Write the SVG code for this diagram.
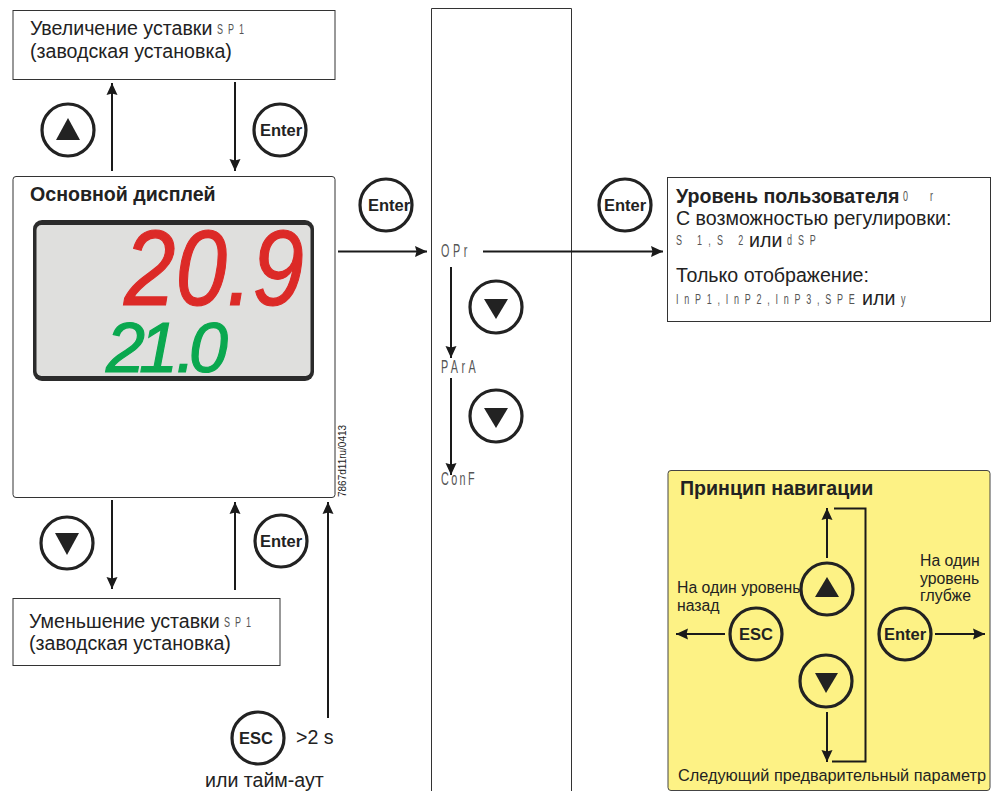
<svg xmlns="http://www.w3.org/2000/svg" width="998" height="791" viewBox="0 0 998 791">
<style>
text{font-family:"Liberation Sans",Arial,sans-serif;fill:#222}
.t{font-size:19.6px}
.b{font-weight:bold}
.s{font-size:15.800px}
.box{fill:#fff;stroke:#333;stroke-width:1}
.c{fill:#fff;stroke:#222;stroke-width:3.2}
.cy{fill:#fdf285;stroke:#222;stroke-width:3.2}
.k{font-size:16.500px;font-weight:bold;text-anchor:middle}
.tri{fill:#222}
.ln{fill:none;stroke:#1a1a1a;stroke-width:2}
.a{marker-end:url(#h)}
.seg{font-family:"Liberation Sans",sans-serif;font-size:15px;fill:#555}
.seg2{font-family:"Liberation Sans",sans-serif;font-size:18px;fill:#555}
</style>
<defs><marker id="h" markerUnits="userSpaceOnUse" markerWidth="13" markerHeight="12" refX="12" refY="6" orient="auto"><path d="M0 0.500L12 6L0 11.500L1.500 6Z" fill="#1a1a1a"/></marker></defs>
<rect width="998" height="791" fill="#fff"/>
<g id="column"><path d="M431.500 791V8.500H571.500V791" fill="#fff" stroke="#333"/></g>
<g id="box-up"><rect class="box" x="13" y="10.500" width="322" height="69"/>
<text class="t" x="30" y="35">Увеличение уставки</text><text class="seg" transform="translate(217 34) scale(.6 1)" textLength="45" lengthAdjust="spacing">SP1</text>
<text class="t" x="30" y="58">(заводская установка)</text></g>
<g id="box-main"><rect class="box" x="13" y="176.500" width="322" height="321" rx="3"/>
<text class="t b" x="30" y="201">Основной дисплей</text>
<rect x="33" y="220" width="281" height="161" rx="9" fill="#2b2b2b"/><rect x="36.500" y="225" width="274" height="151" rx="5" fill="#dfdfdd"/>
<text x="124" y="305" font-size="107" font-style="italic" textLength="180" lengthAdjust="spacingAndGlyphs" style="fill:#dc2a27;stroke:#dc2a27;stroke-width:1.200">20.9</text>
<text x="106 139 176 189" y="372" font-size="70" font-style="italic" style="fill:#0aa84f;stroke:#0aa84f;stroke-width:1.200">21.0</text>
<text transform="translate(346 497) rotate(-90)" font-size="10">7867d11ru/0413</text></g>
<g id="box-down"><rect class="box" x="13" y="598.500" width="267" height="67"/>
<text class="t" x="29" y="628">Уменьшение уставки</text><text class="seg" transform="translate(224 627) scale(.6 1)" textLength="45" lengthAdjust="spacing">SP1</text>
<text class="t" x="29" y="650">(заводская установка)</text></g>
<g id="box-user"><rect class="box" x="667.500" y="177.500" width="323" height="144"/>
<text class="t b" x="676" y="203">Уровень пользователя</text><text class="seg" transform="translate(903 201) scale(.6 1)" textLength="50" lengthAdjust="spacing">0 r</text>
<text class="t" x="676" y="225">С возможностью регулировки:</text>
<text class="seg" transform="translate(676 245) scale(.6 1)" textLength="112" lengthAdjust="spacing">S 1,S 2</text><text class="t" x="749" y="247">или</text><text class="seg" transform="translate(787 245) scale(.6 1)" textLength="48" lengthAdjust="spacing">dSP</text>
<text class="t" x="676" y="282">Только отображение:</text>
<text class="seg" transform="translate(676 304) scale(.6 1)" textLength="298" lengthAdjust="spacing">InP1,InP2,InP3,SPE</text><text class="t" x="862" y="305">или</text><text class="seg" transform="translate(901 304) scale(.6 1)">y</text></g>
<g id="menu"><text class="seg2" transform="translate(441 257) scale(.6 1)" textLength="44" lengthAdjust="spacing">OPr</text><text class="seg2" transform="translate(441 373) scale(.6 1)" textLength="58" lengthAdjust="spacing">PArA</text><text class="seg2" transform="translate(441 485) scale(.6 1)" textLength="56" lengthAdjust="spacing">ConF</text></g>
<g id="connectors">
<path class="ln a" d="M112 171V83"/><path class="ln a" d="M235 82V171"/><path class="ln a" d="M112 500V589"/><path class="ln a" d="M235 590V502"/><path class="ln a" d="M328 718V502"/>
<path class="ln a" d="M338 251.500H427"/><path class="ln a" d="M483 251.500H663"/><path class="ln a" d="M451 267V358"/><path class="ln a" d="M451 378V475"/>
</g>
<g id="btn-up1"><circle class="c" cx="68" cy="130" r="26"/><path class="tri" d="M68 118L80 140H56Z"/></g>
<g id="btn-enter1"><circle class="c" cx="280" cy="130" r="26"/><text class="k" x="281" y="136">Enter</text></g>
<g id="btn-down1"><circle class="c" cx="67" cy="543" r="26"/><path class="tri" d="M55 533H79L67 555Z"/></g>
<g id="btn-enter2"><circle class="c" cx="281" cy="541" r="26"/><text class="k" x="281" y="547">Enter</text></g>
<g id="btn-esc"><circle class="c" cx="258" cy="738" r="26"/><text class="k" x="256" y="744">ESC</text><text class="t" x="296" y="744">&gt;2 s</text><text class="t" x="205" y="787">или тайм-аут</text></g>
<g id="btn-enter3"><circle class="c" cx="386" cy="205" r="26"/><text class="k" x="389" y="211">Enter</text></g>
<g id="btn-enter4"><circle class="c" cx="625" cy="205" r="26"/><text class="k" x="625" y="211">Enter</text></g>
<g id="btn-down2"><circle class="c" cx="496" cy="307" r="26"/><path class="tri" d="M484 299H508L496 319Z"/></g>
<g id="btn-down3"><circle class="c" cx="496" cy="416" r="26"/><path class="tri" d="M484 408H508L496 428Z"/></g>
<g id="nav"><rect x="668" y="470.500" width="322" height="320" rx="3" fill="#fdf285" stroke="#444"/>
<text class="t b" x="680" y="495">Принцип навигации</text>
<path class="ln a" d="M827 558V508"/><path class="ln" d="M834 508.500H865.500V761.500H832"/><path class="ln a" d="M827 712V762"/><path class="ln a" d="M725 634H676"/><path class="ln a" d="M935 634H985"/>
<circle class="cy" cx="827" cy="589" r="26"/><path class="tri" d="M827 577L839 597H815Z"/>
<circle class="cy" cx="826" cy="681" r="26"/><path class="tri" d="M815 673H838L826 693Z"/>
<circle class="cy" cx="756" cy="634" r="26"/><text class="k" x="756" y="640">ESC</text>
<circle class="cy" cx="905" cy="634" r="26"/><text class="k" x="905" y="640">Enter</text>
<text class="s" x="677" y="593">На один уровень</text><text class="s" x="677" y="611">назад</text>
<text class="s" x="920" y="566">На один</text><text class="s" x="920" y="584">уровень</text><text class="s" x="920" y="601">глубже</text>
<text class="s" x="678" y="781" style="font-size:16.300px">Следующий предварительный параметр</text></g>
</svg>
